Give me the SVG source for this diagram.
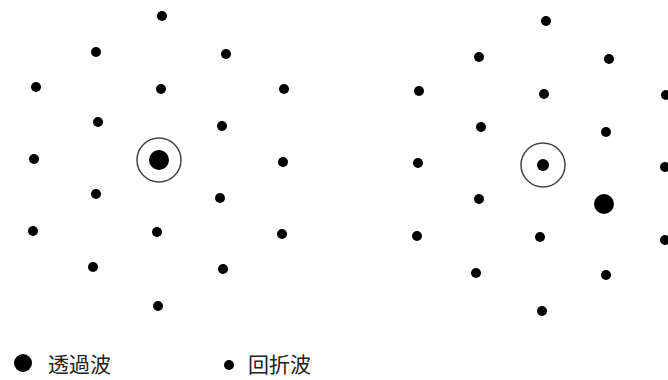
<svg xmlns="http://www.w3.org/2000/svg" width="668" height="380" viewBox="0 0 668 380">
<style>
.d{fill:#000}
.ring{fill:none;stroke:#444;stroke-width:1.5}
.t{font-family:"Noto Sans CJK JP","Noto Sans CJK SC",sans-serif;font-size:21px;fill:#222}
</style>
<rect width="668" height="380" fill="#fff"/>
<g id="pattern-left">
<circle class="d" cx="162" cy="16" r="5"/>
<circle class="d" cx="96" cy="52" r="5"/>
<circle class="d" cx="226" cy="54" r="5"/>
<circle class="d" cx="36" cy="87" r="5"/>
<circle class="d" cx="161" cy="89" r="5"/>
<circle class="d" cx="284" cy="89" r="5"/>
<circle class="d" cx="98" cy="122" r="5"/>
<circle class="d" cx="222" cy="126" r="5"/>
<circle class="d" cx="34" cy="159" r="5"/>
<circle class="ring" cx="159" cy="160" r="22"/>
<circle class="d" cx="159" cy="160" r="10"/>
<circle class="d" cx="283" cy="162" r="5"/>
<circle class="d" cx="96" cy="194" r="5"/>
<circle class="d" cx="220" cy="198" r="5"/>
<circle class="d" cx="33" cy="231" r="5"/>
<circle class="d" cx="157" cy="232" r="5"/>
<circle class="d" cx="282" cy="234" r="5"/>
<circle class="d" cx="93" cy="267" r="5"/>
<circle class="d" cx="223" cy="269" r="5"/>
<circle class="d" cx="158" cy="306" r="5"/>
</g>
<g id="pattern-right">
<circle class="d" cx="546" cy="21" r="5"/>
<circle class="d" cx="479" cy="57" r="5"/>
<circle class="d" cx="609" cy="59" r="5"/>
<circle class="d" cx="419" cy="91" r="5"/>
<circle class="d" cx="544" cy="94" r="5"/>
<circle class="d" cx="666" cy="95" r="5"/>
<circle class="d" cx="481" cy="127" r="5"/>
<circle class="d" cx="606" cy="132" r="5"/>
<circle class="d" cx="418" cy="163" r="5"/>
<circle class="ring" cx="543" cy="165" r="22"/>
<circle class="d" cx="543" cy="165" r="6"/>
<circle class="d" cx="665" cy="167" r="5"/>
<circle class="d" cx="479" cy="199" r="5"/>
<circle class="d" cx="604" cy="204" r="10"/>
<circle class="d" cx="417" cy="236" r="5"/>
<circle class="d" cx="540" cy="237" r="5"/>
<circle class="d" cx="665" cy="240" r="5"/>
<circle class="d" cx="476" cy="273" r="5"/>
<circle class="d" cx="606" cy="275" r="5"/>
<circle class="d" cx="542" cy="311" r="5"/>
</g>
<g id="legend">
<circle class="d" cx="23" cy="363" r="9"/>
<text class="t" x="48" y="372">透過波</text>
<circle class="d" cx="229" cy="365" r="5"/>
<text class="t" x="248" y="372">回折波</text>
</g>
</svg>
